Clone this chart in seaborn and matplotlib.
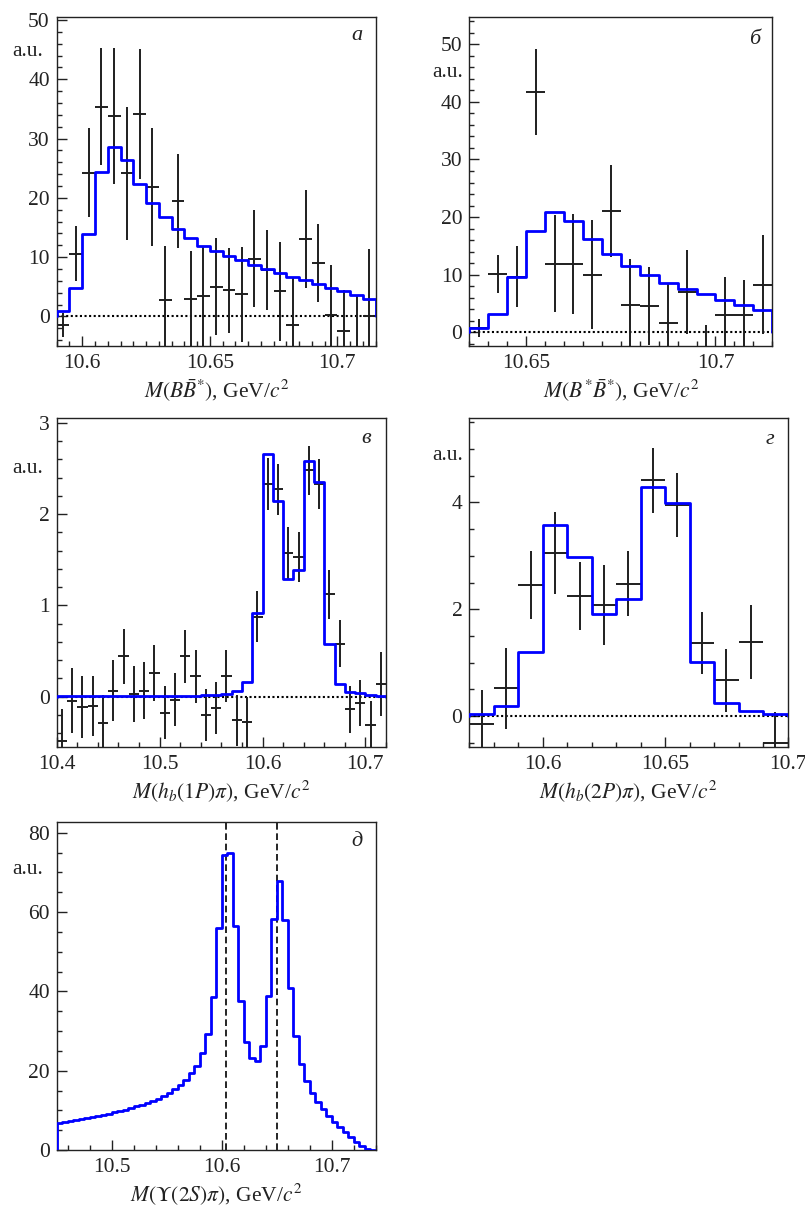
import numpy as np
import matplotlib
matplotlib.use("Agg")
import matplotlib.pyplot as plt
import seaborn as sns
from matplotlib.ticker import MultipleLocator, FuncFormatter

# ------------------------------------------------------------------ data
# panel a : M(B Bbar*)
a_start, a_width = 10.59, 0.005
a_fit = [0.9, 4.8, 13.9, 24.3, 28.6, 26.3, 22.4, 19.2, 16.7, 14.75, 13.2, 11.9,
         11.0, 10.2, 9.5, 8.7, 8.0, 7.3, 6.6, 6.1, 5.4, 4.8, 4.2, 3.6, 2.9]
a_data = [-1.5, 10.6, 24.2, 35.4, 33.8, 24.1, 34.1, 21.8, 2.7, 19.5, 3.0, 3.4,
          5.0, 4.4, 3.7, 9.7, 7.8, 4.2, -1.4, 13.1, 9.0, 0.2, -2.5, -5.8, 0.1]
a_err = [2.0, 4.7, 7.5, 9.8, 11.4, 11.2, 11.0, 10.0, 9.2, 7.9, 8.1, 8.5,
         8.2, 7.2, 8.0, 8.2, 6.8, 8.3, 7.9, 8.3, 6.5, 8.4, 6.9, 9.3, 11.3]

# panel b : M(B* Bbar*)
b_start, b_width = 10.635, 0.005
b_fit = [0.75, 3.2, 9.6, 17.5, 20.9, 19.3, 16.2, 13.6, 11.5, 10.0, 8.6, 7.5,
         6.6, 5.6, 4.75, 3.8]
b_data = [0.75, 10.1, 9.6, 41.7, 11.9, 11.8, 10.0, 21.1, 4.8, 4.6, 1.6, 7.0,
          -6.0, 3.0, 2.9, 8.2]
b_err = [1.5, 3.3, 5.3, 7.5, 8.4, 8.7, 9.5, 8.0, 8.0, 6.8, 6.8, 7.3,
         7.2, 6.6, 6.1, 8.6]

# panel c : M(h_b(1P) pi)
c_start, c_width = 10.40, 0.01
c_fit = [0.002, 0.002, 0.002, 0.002, 0.003, 0.003, 0.003, 0.004, 0.004, 0.005,
         0.006, 0.007, 0.008, 0.010, 0.013, 0.018, 0.03, 0.06, 0.16, 0.92,
         2.66, 2.14, 1.29, 1.39, 2.58, 2.35, 0.58, 0.135, 0.05, 0.035, 0.015, 0.005]
c_data = [-0.49, -0.044, -0.12, -0.10, -0.29, 0.066, 0.44, 0.03, 0.066, 0.255,
          -0.18, -0.036, 0.44, 0.22, -0.2, -0.13, 0.22, -0.26, -0.28, 0.875,
          2.33, 2.27, 1.57, 1.53, 2.48, 2.33, 1.12, 0.58, -0.14, -0.07, -0.31, 0.14]
c_err = [0.35, 0.36, 0.34, 0.33, 0.31, 0.335, 0.30, 0.31, 0.31, 0.305,
         0.29, 0.29, 0.29, 0.29, 0.285, 0.285, 0.285, 0.28, 0.28, 0.28,
         0.28, 0.28, 0.285, 0.275, 0.27, 0.275, 0.265, 0.255, 0.26, 0.255, 0.26, 0.35]

# panel d : M(h_b(2P) pi)
d_start, d_width = 10.57, 0.01
d_fit = [0.05, 0.2, 1.2, 3.58, 2.98, 1.92, 2.19, 4.29, 3.98, 1.02, 0.25, 0.1, 0.05]
d_data = [-0.14, 0.52, 2.45, 3.05, 2.25, 2.08, 2.48, 4.41, 3.95, 1.37, 0.67, 1.39, -0.51]
d_err = [0.63, 0.75, 0.64, 0.76, 0.63, 0.74, 0.61, 0.61, 0.59, 0.58, 0.585, 0.69, 0.59]

# panel e : M(Upsilon(2S) pi)
e_start, e_width = 10.45, 0.005
e_fit = [6.9, 7.1, 7.4, 7.6, 7.9, 8.15, 8.4, 8.7, 8.9, 9.2, 9.5, 9.8, 10.2, 10.6,
         11.0, 11.4, 11.8, 12.35, 12.9, 13.6, 14.4, 15.3, 16.4, 17.6, 19.3, 21.3,
         24.4, 29.2, 38.7, 56.1, 74.4, 74.8, 56.5, 37.6, 27.2, 23.1, 22.4, 26.3,
         38.8, 58.2, 67.9, 58.0, 40.8, 28.7, 21.8, 17.5, 14.5, 12.0, 10.3, 8.7,
         7.1, 5.9, 4.6, 3.4, 2.1, 1.1, 0.3, 0.1]
e_zb_masses = [10.604, 10.650]

panel_letters = ["а", "б", "в", "г", "д"]
x_labels = [r"$M(B\bar{B}^{*})$, GeV/$c^2$",
            r"$M(B^{*}\bar{B}^{*})$, GeV/$c^2$",
            r"$M(h_b(1P)\pi)$, GeV/$c^2$",
            r"$M(h_b(2P)\pi)$, GeV/$c^2$",
            r"$M(\Upsilon(2S)\pi)$, GeV/$c^2$"]
y_unit = "a.u."

# ------------------------------------------------------------------ style
sns.set_theme(style="ticks")
plt.rcParams["font.family"] = ["Liberation Serif", "DejaVu Serif"]
plt.rcParams["mathtext.fontset"] = "stix"
plt.rcParams["axes.linewidth"] = 1.0
TXT = "#222222"
FS = 15.5

fig = plt.figure(figsize=(8.05, 12.16), dpi=100)
W, H = 805.0, 1216.0


def add_ax(l, t, r, b):
    return fig.add_axes([l / W, 1 - b / H, (r - l) / W, (b - t) / H])


def step_xy(start, width, vals):
    n = len(vals)
    edges = start + width * np.arange(n + 1)
    xs = np.repeat(edges, 2)
    ys = np.concatenate([[0.0], np.repeat(np.asarray(vals, float), 2), [0.0]])
    return xs, ys


def draw(ax, start, width, fit, data=None, err=None, zero_line=True):
    if zero_line:
        ax.axhline(0, color="black", ls=(0, (1, 1.2)), lw=1.5, zorder=1.5)
    if data is not None:
        centers = start + width * (np.arange(len(data)) + 0.5)
        ax.errorbar(centers, data, xerr=width / 2, yerr=err, fmt="none",
                    ecolor="#1e1e1e", elinewidth=1.4, capsize=0, zorder=2)
    xs, ys = step_xy(start, width, fit)
    sns.lineplot(x=xs, y=ys, estimator=None, sort=False, color="#0000ff",
                 lw=2.0, ax=ax, zorder=3, legend=False)


fmt = FuncFormatter(lambda v, p: "%g" % round(v, 6))


def style(ax, xlim, ylim, xmaj, xmin, ymaj, ymin, xlabel, letter, au_gap, au_y,
          let_xy):
    ax.set_xlim(xlim)
    ax.set_ylim(ylim)
    ax.xaxis.set_major_locator(MultipleLocator(xmaj))
    ax.xaxis.set_minor_locator(MultipleLocator(xmin))
    ax.yaxis.set_major_locator(MultipleLocator(ymaj))
    ax.yaxis.set_minor_locator(MultipleLocator(ymin))
    ax.xaxis.set_major_formatter(fmt)
    ax.yaxis.set_major_formatter(fmt)
    ax.tick_params(which="both", direction="in", top=False, right=False,
                   labelsize=FS, labelcolor=TXT, color="#222222", width=1.0)
    ax.tick_params(axis="x", which="both", pad=6)
    ax.tick_params(axis="y", which="both", pad=5)
    ax.tick_params(which="major", length=7.5)
    ax.tick_params(which="minor", length=3.8)
    for s in ax.spines.values():
        s.set_color("#222222")
        s.set_linewidth(1.0)
    ax.set_xlabel(xlabel, fontsize=FS, color=TXT, labelpad=3)
    ax.set_ylabel("")
    wpx = ax.get_position().width * W
    ax.text(-au_gap / wpx, au_y, y_unit, transform=ax.transAxes, ha="right",
            va="center", fontsize=FS, color=TXT)
    ax.text(let_xy[0], let_xy[1], letter, transform=ax.transAxes, ha="center",
            va="center", fontsize=16, style="italic", color=TXT)


# panel a
ax = add_ax(56.7, 17, 375.7, 346)
draw(ax, a_start, a_width, a_fit, a_data, a_err)
style(ax, (a_start, a_start + a_width * len(a_fit)), (-5.0, 50.5), 0.05, 0.005,
      10, 2, x_labels[0], panel_letters[0], 14, 0.894, (0.941, 0.945))

# panel b
ax = add_ax(469.3, 17.3, 772.3, 346)
draw(ax, b_start, b_width, b_fit, b_data, b_err)
style(ax, (b_start, b_start + b_width * len(b_fit)), (-2.4, 54.7), 0.05, 0.005,
      10, 2, x_labels[1], panel_letters[1], 6.6, 0.833, (0.943, 0.931))

# panel c
ax = add_ax(56.7, 418.3, 386, 746.7)
draw(ax, c_start, c_width, c_fit, c_data, c_err)
style(ax, (c_start, c_start + c_width * len(c_fit)), (-0.55, 3.05), 0.1, 0.02,
      1, 0.2, x_labels[2], panel_letters[2], 14, 0.847, (0.941, 0.939))

# panel d
ax = add_ax(469.3, 418.3, 787.7, 746.7)
draw(ax, d_start, d_width, d_fit, d_data, d_err)
style(ax, (d_start, d_start + d_width * len(d_fit)), (-0.57, 5.57), 0.05, 0.01,
      2, 0.5, x_labels[3], panel_letters[3], 6.6, 0.888, (0.944, 0.934))

# panel e
ax = add_ax(56.7, 821.7, 375.7, 1150)
for m in e_zb_masses:
    ax.axvline(m, color="black", ls=(0, (4, 2.2)), lw=1.2, zorder=2)
draw(ax, e_start, e_width, e_fit, zero_line=False)
style(ax, (e_start, e_start + e_width * len(e_fit)), (0, 82.8), 0.1, 0.02,
      20, 5, x_labels[4], panel_letters[4], 14, 0.855, (0.942, 0.939))

fig.savefig("out.png", dpi=100)
